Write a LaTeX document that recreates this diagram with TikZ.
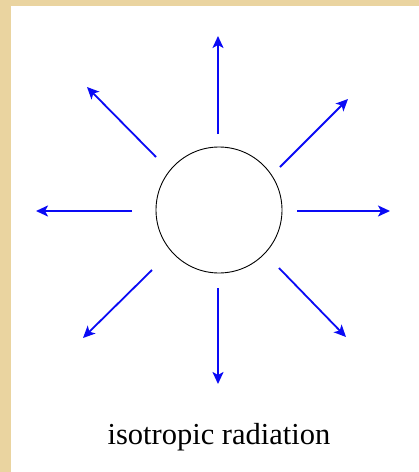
\documentclass[tikz,border=0pt]{standalone}
\usepackage{fontspec}
\setmainfont{Liberation Serif}
\usetikzlibrary{arrows.meta}
\definecolor{parch}{RGB}{234,212,160}
\definecolor{rayblue}{RGB}{10,10,245}
\tikzset{
  ray/.style={draw=rayblue, line width=1.8pt, -{Stealth[length=12pt,width=11pt,inset=3pt]}},
  sunbody/.style={circle, draw=black, line width=0.9pt, minimum size=126pt, inner sep=0pt},
  caption/.style={font=\fontsize{30.5}{34}\selectfont, inner sep=0pt}
}
\begin{document}
\begin{tikzpicture}[x=1pt,y=-1pt]
\useasboundingbox (0,0) rectangle (419,472);
\fill[parch] (0,0) rectangle (419,472);
\fill[white] (11,6) rectangle (419,472);
\node[sunbody] (sun) at (219,210) {};
% ray endpoints
\coordinate (nS) at (218,134);  \coordinate (nE) at (218,36);
\coordinate (sS) at (218,288);  \coordinate (sE) at (218,384);
\coordinate (eS) at (297,211);  \coordinate (eE) at (390,211);
\coordinate (wS) at (132,211);  \coordinate (wE) at (36,211);
\coordinate (neS) at (280,167); \coordinate (neE) at (348,99);
\coordinate (nwS) at (156,157); \coordinate (nwE) at (87,87);
\coordinate (swS) at (152,270); \coordinate (swE) at (83,338);
\coordinate (seS) at (279,268); \coordinate (seE) at (346,337);
\draw[ray] (nS) -- (nE);
\draw[ray, line width=2.6pt] (sS) -- (sE);
\draw[ray] (eS) -- (eE);
\draw[ray, line width=2.3pt] (wS) -- (wE);
\draw[ray] (neS) -- (neE);
\draw[ray] (nwS) -- (nwE);
\draw[ray] (swS) -- (swE);
\draw[ray] (seS) -- (seE);
\node[caption] (cap) at (219,437) {isotropic radiation};
\end{tikzpicture}
\end{document}
